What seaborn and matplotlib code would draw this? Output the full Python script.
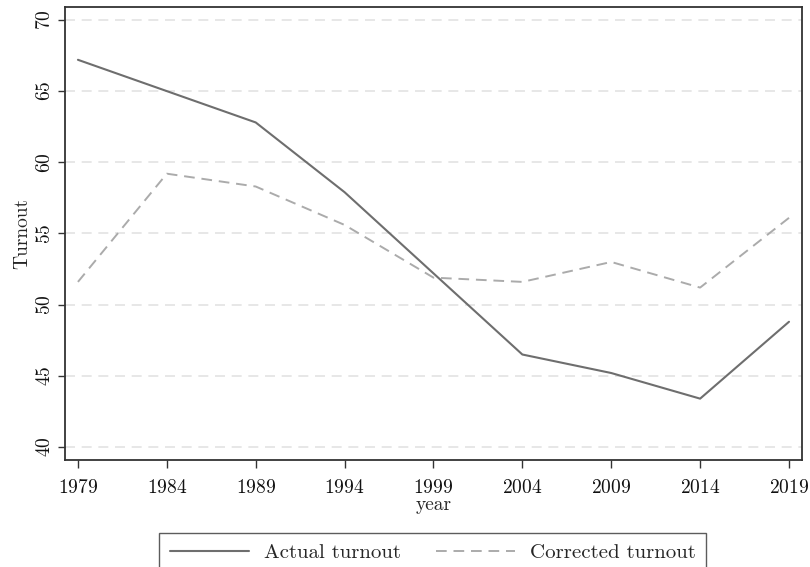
import matplotlib
matplotlib.use("Agg")
import matplotlib.pyplot as plt
import seaborn as sns
import pandas as pd

# data
years = [1979, 1984, 1989, 1994, 1999, 2004, 2009, 2014, 2019]
actual = [67.2, 65.0, 62.8, 57.9, 52.2, 46.5, 45.2, 43.4, 48.8]
corrected = [51.6, 59.2, 58.3, 55.6, 51.9, 51.6, 53.0, 51.2, 56.1]
yticks = [40, 45, 50, 55, 60, 65, 70]

df = pd.DataFrame({"year": years, "actual": actual, "corrected": corrected})

sns.set_style("white")
plt.rcParams["font.family"] = ["cmr10", "DejaVu Serif"]
plt.rcParams["axes.formatter.use_mathtext"] = True

fig = plt.figure(figsize=(8.1, 5.67), dpi=100)
ax = fig.add_axes([0.0802, 0.1887, 0.9099, 0.799])

sns.lineplot(data=df, x="year", y="actual", ax=ax, color="#6e6e6e",
             linewidth=1.5, label="Actual turnout")
sns.lineplot(data=df, x="year", y="corrected", ax=ax, color="#ababab",
             linewidth=1.4, linestyle=(0, (5.5, 3.5)), label="Corrected turnout")

ax.set_xlim(1978.27, 2019.73)
ax.set_ylim(39.09, 70.91)
ax.set_xticks(years)
ax.set_yticks(yticks)
for y in yticks:
    ax.axhline(y, color="#e3e3e3", linewidth=1.2, linestyle=(0, (6, 4)), zorder=0)

ax.tick_params(axis="both", which="major", direction="out", length=6,
               width=1.0, color="#333333", labelsize=14, labelcolor="#111111",
               bottom=True, left=True)
ax.tick_params(axis="x", pad=8)
ax.tick_params(axis="y", length=5, pad=3)
for lab in ax.get_yticklabels():
    lab.set_rotation(90)
    lab.set_va("center")
for sp in ax.spines.values():
    sp.set_color("#333333")
    sp.set_linewidth(1.3)

ax.set_xlabel("year", fontsize=14, labelpad=-1)
ax.set_ylabel("Turnout", fontsize=14, labelpad=3)

ax.get_legend().remove()
handles, labels = ax.get_legend_handles_labels()
leg = fig.legend(handles, labels, loc="upper center", bbox_to_anchor=(0.534, 0.078),
                 ncol=2, fontsize=15, frameon=True, fancybox=False,
                 handlelength=3.8, handletextpad=0.7, columnspacing=1.7,
                 borderpad=0.5, edgecolor="#333333")
leg.get_frame().set_linewidth(1.0)

fig.savefig("out.png", dpi=100)
